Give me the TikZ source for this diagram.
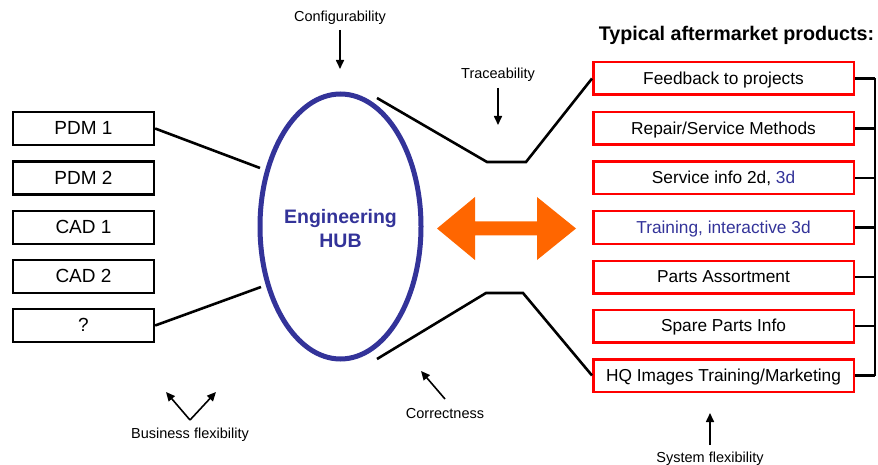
\documentclass[tikz,border=0pt]{standalone}
\usepackage{fontspec}
\setmainfont{Liberation Sans}
\usetikzlibrary{arrows.meta,shapes.geometric}
\definecolor{hubblue}{RGB}{51,51,153}
\definecolor{prodred}{RGB}{255,0,0}
\definecolor{flow}{RGB}{255,102,0}
\begin{document}
\begin{tikzpicture}[x=1pt,y=-1pt,
  srcbox/.style={draw=black,line width=2.3pt,minimum width=141pt,minimum height=33pt,
    inner sep=0pt,text height=13.6pt,text depth=1.5pt,font=\fontsize{19}{22}\selectfont},
  prodbox/.style={draw=prodred,line width=2.5pt,minimum width=260.5pt,minimum height=32.5pt,
    inner sep=0pt,text height=12.4pt,text depth=1.2pt,font=\fontsize{17.3}{20}\selectfont},
  link/.style={line width=2.6pt,line join=miter},
  bracket/.style={line width=2.5pt},
  pointer/.style={line width=1.6pt,-{Triangle[length=9pt,width=8pt]}},
  note/.style={font=\fontsize{14.5}{17}\selectfont,inner sep=0pt},
]
\useasboundingbox (0,0) rectangle (878,465);

% source systems
\node[srcbox] (pdm1) at (83.5,128.5) {PDM 1};
\node[srcbox] (pdm2) at (83.5,178)   {PDM 2};
\node[srcbox] (cad1) at (83.5,227.5) {CAD 1};
\node[srcbox] (cad2) at (83.5,276.5) {CAD 2};
\node[srcbox] (misc) at (83.5,325.5) {?};

% the hub
\node[ellipse,draw=hubblue,line width=5pt,minimum width=161pt,minimum height=265pt,inner sep=0pt]
  (hub) at (340.5,226.5) {};
\node[font=\bfseries\fontsize{19.5}{24}\selectfont,text=hubblue,align=center] (hubtxt)
  at (340.5,229) {Engineering\\HUB};

% aftermarket products
\node[font=\bfseries\fontsize{19.7}{23}\selectfont,inner sep=0pt] (title) at (736.5,35.5)
  {Typical aftermarket products:};
\node[prodbox] (fb)  at (723.5,78.5)  {Feedback to projects};
\node[prodbox] (rep) at (723.5,128.5) {Repair/Service Methods};
\node[prodbox] (svc) at (723.5,178)   {Service info 2d, \textcolor{hubblue}{3d}};
\node[prodbox,text=hubblue] (trn) at (723.5,227.5) {Training, interactive 3d};
\node[prodbox] (pa)  at (723.5,277)   {Parts Assortment};
\node[prodbox] (sp)  at (723.5,326)   {Spare Parts Info};
\node[prodbox] (hq)  at (723.5,375.5) {HQ Images Training/Marketing};

% bracket joining the products
\coordinate (bt) at (875,78.5);
\coordinate (bb) at (875,375.5);
\draw[bracket] (bt) -- (bb);
\foreach \b in {fb,rep,svc,trn,pa,sp,hq}
  \draw[bracket] (\b.east) -- (\b.east -| bt);

% funnel lines
\coordinate (pdmin) at (260,168);
\coordinate (miscin) at (261,287);
\draw[link] (pdm1.east) -- (pdmin);
\draw[link] (misc.east) -- (miscin);

\coordinate (u1) at (377,98);
\coordinate (u2) at (487,162);
\coordinate (u3) at (526,162);
\draw[link] (u1) -- (u2) -- (u3) -- (fb.west);

\coordinate (l1) at (377,359);
\coordinate (l2) at (486,293);
\coordinate (l3) at (523,293);
\draw[link] (l1) -- (l2) -- (l3) -- (hq.west);

% exchange arrow
\fill[flow] (437,228.5) -- (475,197) -- (475,221.5) -- (537,221.5) -- (537,197)
  -- (576,228.5) -- (537,260) -- (537,235.5) -- (475,235.5) -- (475,260) -- cycle;

% annotations
\node[note] (cfg) at (340,18) {Configurability};
\coordinate (cfgtip) at (340,69);
\draw[pointer] (cfg.south) ++(0,5) -- (cfgtip);

\node[note] (trc) at (498,75) {Traceability};
\coordinate (trctip) at (498,125);
\draw[pointer] (trc.south) ++(0,6) -- (trctip);

\node[note] (cor) at (445,414) {Correctness};
\coordinate (corbase) at (445,399);
\coordinate (cortip) at (421,371);
\draw[pointer] (corbase) -- (cortip);

\node[note] (bus) at (190,435) {Business flexibility};
\coordinate (busv) at (190,420);
\coordinate (busl) at (166,392);
\coordinate (busr) at (216,392);
\draw[pointer] (busv) -- (busl);
\draw[pointer] (busv) -- (busr);

\node[note] (sys) at (710,459) {System flexibility};
\coordinate (sysbase) at (710,445);
\coordinate (systip) at (710,413);
\draw[pointer] (sysbase) -- (systip);
\end{tikzpicture}
\end{document}
